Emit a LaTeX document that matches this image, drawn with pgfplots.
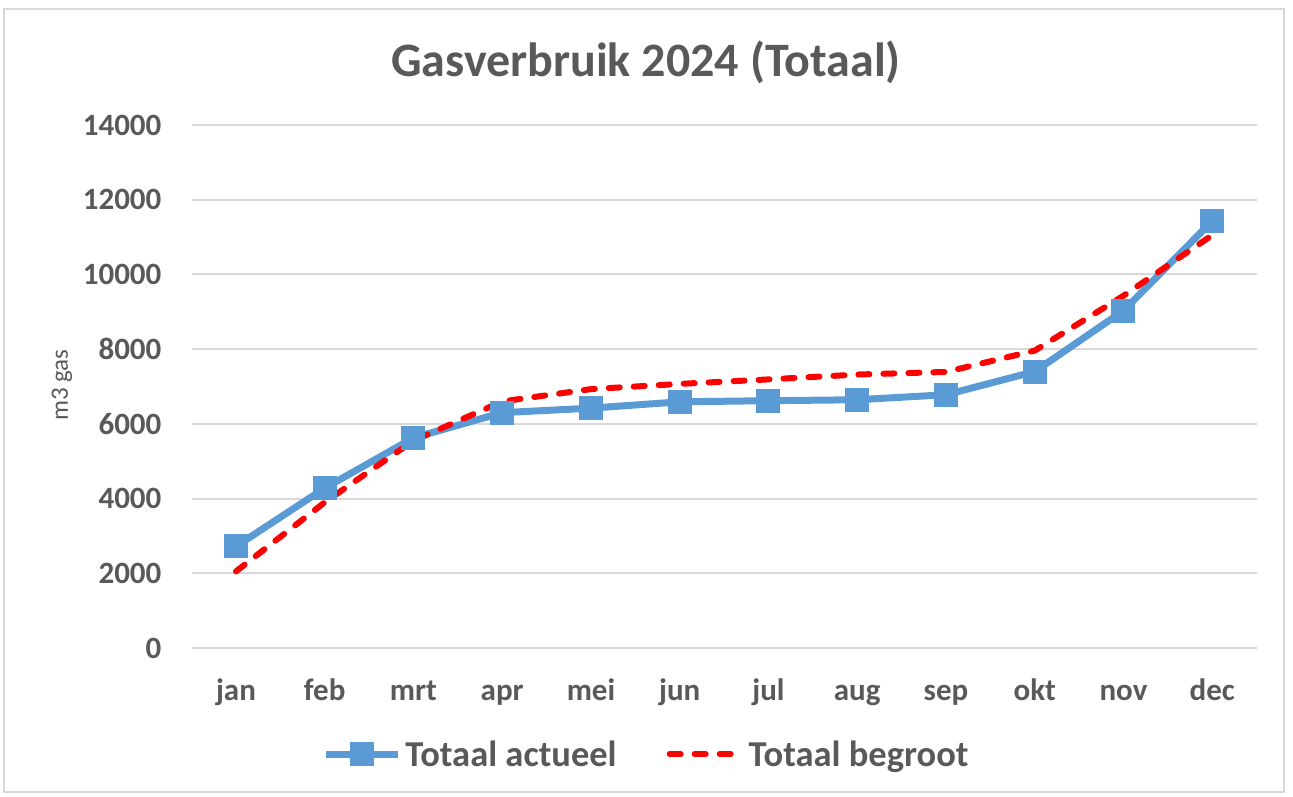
\documentclass[border=0pt]{standalone}
\usepackage{fontspec}
\setmainfont{Carlito}
\usepackage{pgfplots}
\pgfplotsset{compat=1.18}
\definecolor{cblue}{HTML}{5B9BD5}
\definecolor{cred}{HTML}{FF0000}
\definecolor{ctext}{HTML}{595959}
\definecolor{cgrid}{HTML}{D9D9D9}
\begin{document}
\begin{tikzpicture}[x=1pt,y=1pt]
\path[use as bounding box] (0,0) rectangle (1293,796);
\draw[cgrid, line width=1.5pt] (4,4) rectangle (1284,787);
\node[text=ctext, font=\fontsize{48}{57}\selectfont\bfseries] at (646,734) {Gasverbruik 2024 (Totaal)};
\node[text=ctext, rotate=90, font=\fontsize{25}{30}\selectfont] at (62,411) {m3 gas};
\begin{axis}[
  at={(191.6pt,148pt)}, anchor=south west,
  scale only axis, width=1065pt, height=523pt,
  xmin=-0.5, xmax=11.5, ymin=0, ymax=14000,
  xtick={0,...,11},
  xticklabels={jan,feb,mrt,apr,mei,jun,jul,aug,sep,okt,nov,dec},
  ytick={0,2000,...,14000},
  scaled y ticks=false,
  axis line style={draw=none},
  major tick length=0pt,
  ymajorgrids, grid style={cgrid, line width=2pt},
  /pgf/number format/assume math mode=true,
  /pgf/number format/1000 sep={},
  tick label style={text=ctext, font=\fontsize{31}{37}\selectfont\bfseries},
  yticklabel style={anchor=east, inner sep=0pt, xshift=-30pt},
  xticklabel style={anchor=base, inner sep=0pt, yshift=-52pt},
  legend columns=2,
  legend style={at={(0.4280,-0.2027)}, anchor=center, draw=none, fill=none,
    text=ctext, font=\fontsize{36.5}{43}\selectfont\bfseries,
    /tikz/every even column/.append style={column sep=46pt},
    /tikz/every odd column/.append style={column sep=0pt},
    nodes={inner sep=4pt}},
  legend image code/.code={\draw[mark repeat=2,mark phase=2,#1] plot coordinates {(0pt,0pt) (36pt,0pt) (72pt,0pt)};},
]
\addplot[cblue, line width=7pt, mark=square*, mark size=11.5pt, mark options={solid, line width=0pt}]
  coordinates {(0,2720) (1,4280) (2,5625) (3,6300) (4,6420) (5,6590) (6,6620) (7,6645) (8,6780) (9,7400) (10,9030) (11,11430)};
\addlegendentry{Totaal actueel}
\addplot[cred, line width=6pt, line cap=round, dash pattern=on 11pt off 14pt]
  coordinates {(0,2050) (1,3900) (2,5550) (3,6600) (4,6930) (5,7070) (6,7190) (7,7320) (8,7390) (9,7960) (10,9430) (11,11050)};
\addlegendentry{Totaal begroot}
\end{axis}
\end{tikzpicture}
\end{document}
